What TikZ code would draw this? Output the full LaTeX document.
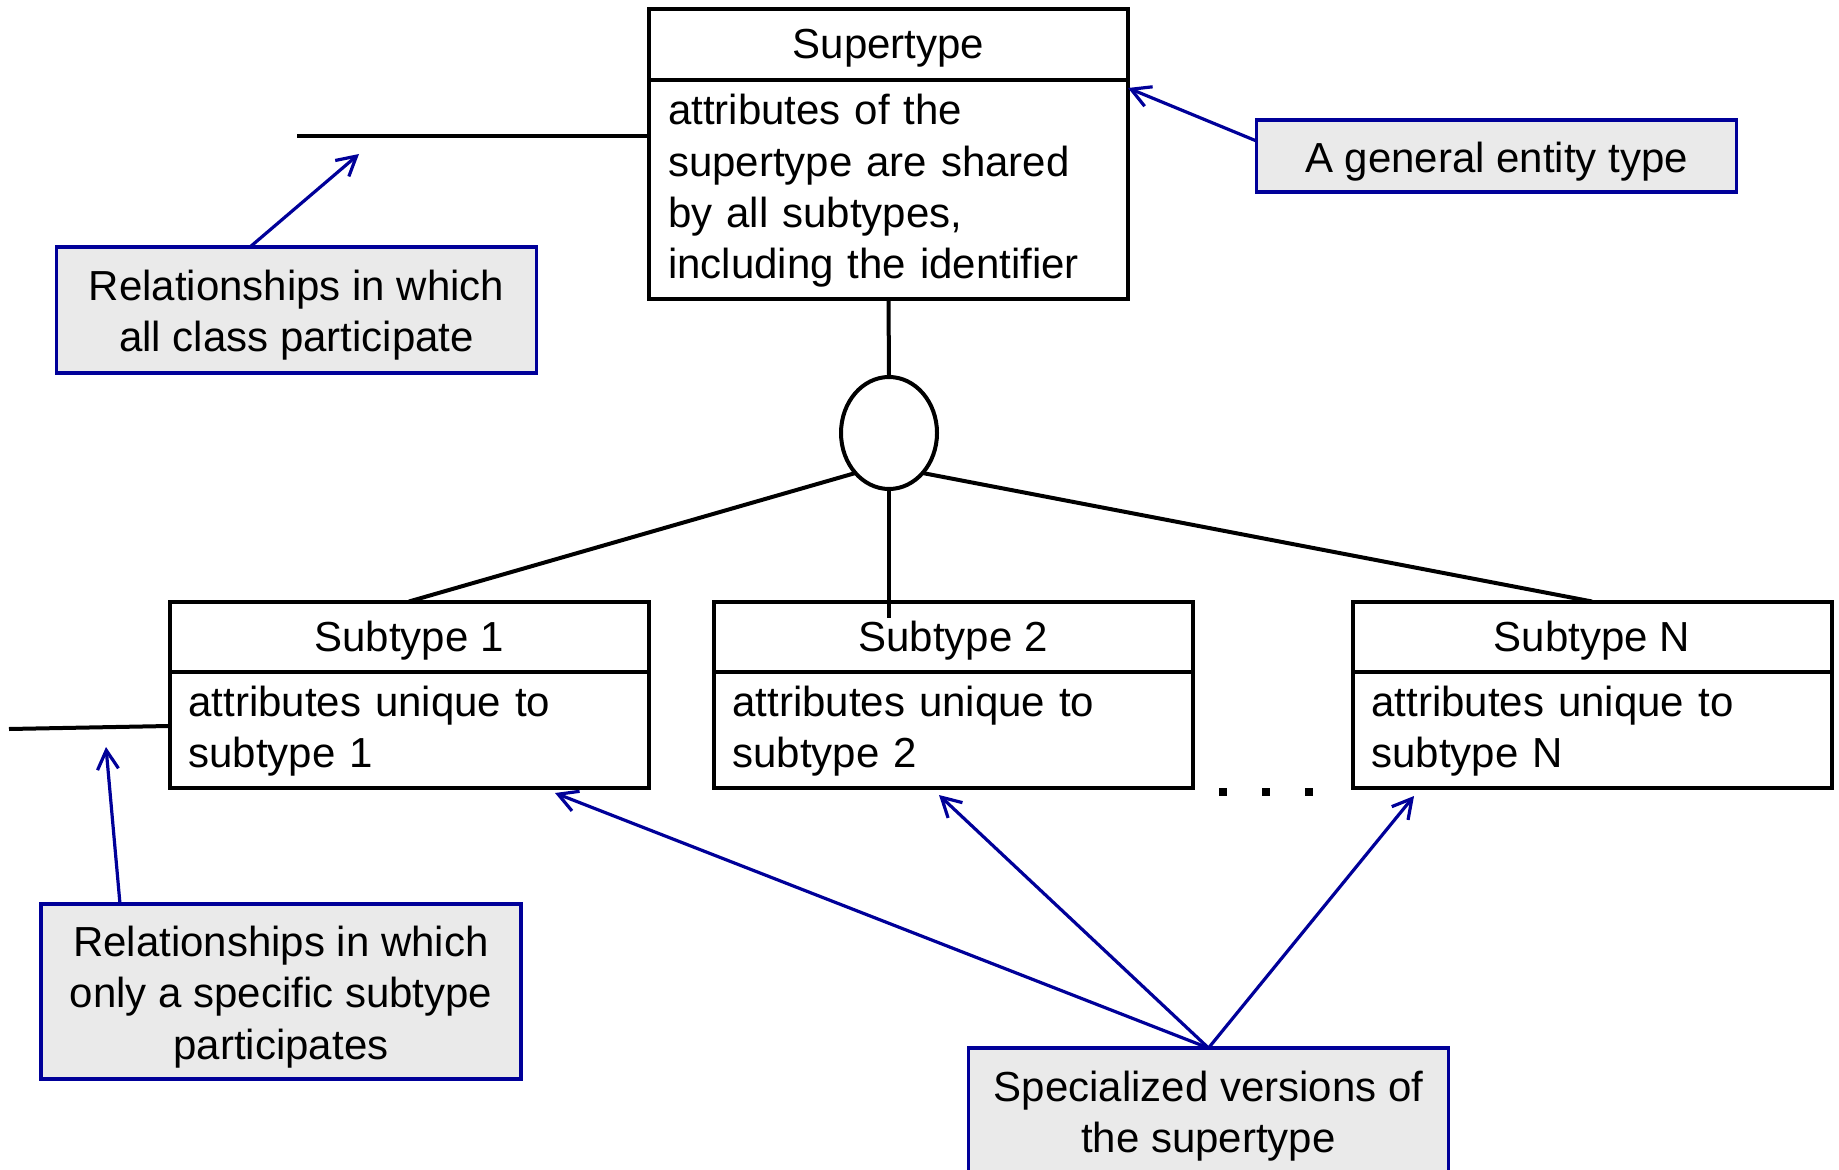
\documentclass[tikz,border=0pt]{standalone}
\usepackage{fontspec}
\setmainfont{Liberation Sans}
\usetikzlibrary{shapes.geometric,arrows.meta}
\definecolor{cblue}{HTML}{000099}
\definecolor{cfill}{HTML}{EAEAEA}
\newcommand\mystrutA{\rule[-4pt]{0pt}{24.5pt}}
\newcommand\mystrutT{\rule[-4pt]{0pt}{22.5pt}}
\newcommand\mystrutB{\rule{0pt}{16.6pt}}
\begin{document}
\begin{tikzpicture}[x=0.5pt,y=-0.5pt,
  every node/.style={font=\fontsize{21}{25.7}\selectfont, inner sep=0pt, outer sep=0pt},
  ent/.style={draw=black, line width=2pt, fill=white, minimum width=239.5pt},
  enttitle/.style={ent, minimum height=35.5pt, align=center,
    execute at begin node=\mystrutT},
  entbody/.style={ent, text width=220.5pt, inner xsep=9.5pt, align=left,
    execute at begin node=\mystrutB},
  callout/.style={draw=cblue, fill=cfill, line width=1.6pt, minimum width=240pt, align=center},
  conn/.style={line width=2pt, black},
  arr/.style={cblue, line width=1.6pt, -{Straight Barb[length=9.5pt,width=10.5pt]}},
  dotbox/.style={fill=black, minimum size=4pt}
]
\fill[white] (0,0) rectangle (1839,1170);
\useasboundingbox (0,0) rectangle (1839,1170);

% supertype
\node[enttitle] (supt) at (888.5,44.5) {Supertype};
\node[entbody, minimum height=109.5pt] (supb) at (888.5,189.5) {attributes of the\\supertype are shared\\by all subtypes,\\including the identifier};

% subtypes
\node[enttitle] (s1t) at (409,637) {Subtype 1};
\node[entbody, minimum height=58pt] (s1b) at (409,730) {attributes unique to\\subtype 1};
\node[enttitle] (s2t) at (953,637) {Subtype 2};
\node[entbody, minimum height=58pt] (s2b) at (953,730) {attributes unique to\\subtype 2};
\node[enttitle] (sNt) at (1592,637) {Subtype N};
\node[entbody, minimum height=58pt] (sNb) at (1592,730) {attributes unique to\\subtype N};

% circle
\node[ellipse, draw, line width=2pt, fill=white, minimum width=48pt, minimum height=56pt] (circ) at (889,433) {};

% dots
\node[dotbox] (d1) at (1223,792) {};
\node[dotbox] (d2) at (1266,792) {};
\node[dotbox] (d3) at (1309,792) {};

% callouts
\node[callout, minimum height=63pt] (c1) at (296.5,310) {\mystrutA Relationships in which\\all class participate};
\node[callout, minimum height=36pt] (c2) at (1496.5,156) {\mystrutA A general entity type};
\node[callout, minimum height=87.5pt] (c3) at (281,991.5) {\mystrutA Relationships in which\\only a specific subtype\\participates};
\node[callout, minimum height=63pt] (c4) at (1208.5,1111) {\mystrutA Specialized versions of\\the supertype};

% coordinates for free ends
\coordinate (r1) at (297,136);
\coordinate (r2) at (9,729);
\coordinate (r2e) at (169,726);
\coordinate (v2) at (889,618);
\coordinate (a1) at (359,154);
\coordinate (a3) at (106,747);

% black connectors
\draw[conn] (r1) -- (r1 -| supb.west);
\draw[conn] (r2) -- (r2e);
\draw[conn] (supb.south) -- (circ.north);
\draw[conn] (circ.230) -- (s1t.north);
\draw[conn] (circ.310) -- (sNt.north);
\draw[conn] (circ.south) -- (v2);

% blue arrows
\draw[arr] ([xshift=-23.25pt]c1.north) -- (a1);
\draw[arr] ([yshift=7.5pt]c2.west) -- ([yshift=-4pt]supb.north east);
\draw[arr] ([xshift=-80.5pt]c3.north) -- (a3);
\draw[arr] (c4.north) -- ([xshift=73pt,yshift=-2.5pt]s1b.south);
\draw[arr] (c4.north) -- ([xshift=-7pt,yshift=-3.5pt]s2b.south);
\draw[arr] (c4.north) -- ([xshift=-89pt,yshift=-4pt]sNb.south);
\end{tikzpicture}
\end{document}
